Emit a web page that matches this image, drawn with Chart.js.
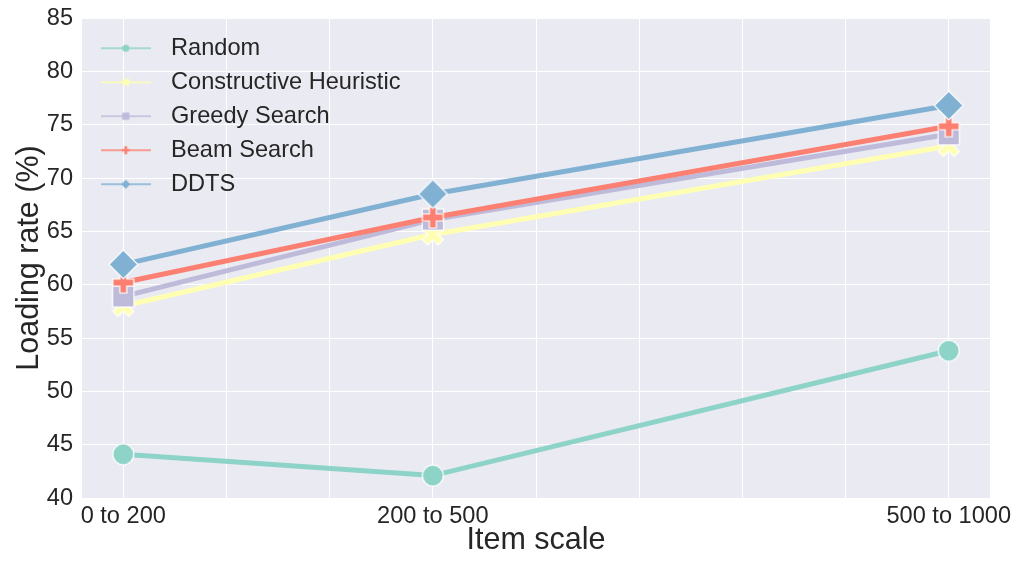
<!DOCTYPE html>
<html>
<head>
<meta charset="utf-8">
<script src="https://cdn.jsdelivr.net/npm/chart.js@4.4.1/dist/chart.umd.min.js"></script>
<style>
html,body{margin:0;padding:0;background:#ffffff;}
#wrap{width:1019px;height:565px;position:relative;}
</style>
</head>
<body>
<div id="wrap"><canvas id="c" width="1019" height="565"></canvas></div>
<script>
// ---- data ----
const categories = ['0 to 200', '200 to 500', '500 to 1000'];
const categoryX = [200, 500, 1000];
const seriesNames = ['Random', 'Constructive Heuristic', 'Greedy Search', 'Beam Search', 'DDTS'];
const randomVals = [44.1, 42.1, 53.8];
const constructiveVals = [58.0, 64.7, 73.0];
const greedyVals = [58.9, 66.1, 74.1];
const beamVals = [60.2, 66.3, 74.85];
const ddtsVals = [61.9, 68.5, 76.8];
const yTickValues = [40, 45, 50, 55, 60, 65, 70, 75, 80, 85];
const xGridValues = [200, 300, 400, 500, 600, 700, 800, 900, 1000];

// ---- styles ----
const FONT = "'Liberation Sans', Arial, sans-serif";
const TEXT = '#262626';
const colors = ['#8dd3c7', '#ffffb3', '#bebada', '#fb8072', '#80b1d3'];
const shapes = ['circle', 'x', 'square', 'plus', 'diamond'];
const markerHalf = [10.5, 10.5, 10.7, 10.5, 14.5];
const legendHalf = [3.6, 4, 3.6, 4, 4.6];
const allVals = [randomVals, constructiveVals, greedyVals, beamVals, ddtsVals];

function shapePath(ctx, shape, cx, cy, s) {
  ctx.beginPath();
  if (shape === 'circle') {
    ctx.arc(cx, cy, s, 0, Math.PI * 2);
  } else if (shape === 'square') {
    ctx.rect(cx - s, cy - s, 2 * s, 2 * s);
  } else if (shape === 'diamond') {
    ctx.moveTo(cx, cy - s); ctx.lineTo(cx + s, cy); ctx.lineTo(cx, cy + s); ctx.lineTo(cx - s, cy);
    ctx.closePath();
  } else if (shape === 'x') {
    const p = [[-1,-2],[0,-1],[1,-2],[2,-1],[1,0],[2,1],[1,2],[0,1],[-1,2],[-2,1],[-1,0],[-2,-1]];
    p.forEach((q, i) => { const x = cx + q[0] * s / 2, y = cy + q[1] * s / 2; i ? ctx.lineTo(x, y) : ctx.moveTo(x, y); });
    ctx.closePath();
  } else if (shape === 'plus') {
    const p = [[-1,-3],[1,-3],[1,-1],[3,-1],[3,1],[1,1],[1,3],[-1,3],[-1,1],[-3,1],[-3,-1],[-1,-1]];
    p.forEach((q, i) => { const x = cx + q[0] * s / 3, y = cy + q[1] * s / 3; i ? ctx.lineTo(x, y) : ctx.moveTo(x, y); });
    ctx.closePath();
  }
}

function markerCanvas(shape, half, color) {
  const size = Math.ceil(2 * (half + 2));
  const c = document.createElement('canvas');
  c.width = size; c.height = size;
  const ctx = c.getContext('2d');
  shapePath(ctx, shape, size / 2, size / 2, half);
  ctx.fillStyle = color; ctx.fill();
  ctx.strokeStyle = '#ffffff'; ctx.lineWidth = 1.2; ctx.stroke();
  return c;
}

function legendCanvas(shape, half, color) {
  const w = 50, h = 14;
  const c = document.createElement('canvas');
  c.width = w; c.height = h;
  const ctx = c.getContext('2d');
  ctx.strokeStyle = color; ctx.lineWidth = 1.6;
  ctx.beginPath(); ctx.moveTo(0, h / 2); ctx.lineTo(w, h / 2); ctx.stroke();
  shapePath(ctx, shape, w / 2, h / 2, half);
  ctx.fillStyle = color; ctx.fill();
  return c;
}

const pointImgs = shapes.map((s, i) => markerCanvas(s, markerHalf[i], colors[i]));
const legendImgs = shapes.map((s, i) => legendCanvas(s, legendHalf[i], colors[i]));

const datasets = seriesNames.map((name, i) => ({
  label: name,
  data: categoryX.map((x, j) => ({ x: x, y: allVals[i][j] })),
  borderColor: colors[i],
  backgroundColor: colors[i],
  borderWidth: 5,
  tension: 0,
  fill: false,
  pointStyle: pointImgs[i],
  pointRadius: 10,
  pointHoverRadius: 10,
  order: seriesNames.length - i,
  clip: false
}));

const bgPlugin = {
  id: 'plotBg',
  beforeDraw(chart) {
    const a = chart.chartArea, ctx = chart.ctx;
    ctx.save();
    ctx.fillStyle = '#eaeaf2';
    ctx.fillRect(a.left, a.top, a.right - a.left, a.bottom - a.top);
    ctx.restore();
  }
};

function noPad(s) { s.paddingTop = 0; s.paddingBottom = 0; s.paddingLeft = 0; s.paddingRight = 0; }

new Chart(document.getElementById('c'), {
  type: 'line',
  data: { datasets: datasets },
  plugins: [bgPlugin],
  options: {
    responsive: false,
    animation: false,
    events: [],
    layout: { padding: { top: 18, right: 29, left: 0, bottom: 0 } },
    scales: {
      x: {
        type: 'linear',
        min: 160, max: 1040,
        afterBuildTicks: (s) => { s.ticks = xGridValues.map(v => ({ value: v })); },
        afterFit: (s) => { s.height = 67; noPad(s); },
        ticks: {
          autoSkip: false, maxRotation: 0, minRotation: 0,
          padding: 4,
          color: TEXT,
          font: { family: FONT, size: 23.6 },
          callback: (v) => { const i = categoryX.indexOf(v); return i >= 0 ? categories[i] : ''; }
        },
        grid: { color: '#ffffff', lineWidth: 1, drawTicks: false },
        border: { display: false },
        title: { display: true, text: 'Item scale', color: TEXT, font: { family: FONT, size: 30.5 }, padding: { top: 0, bottom: 6 } }
      },
      y: {
        type: 'linear',
        min: 40, max: 85,
        afterBuildTicks: (s) => { s.ticks = yTickValues.map(v => ({ value: v })); },
        afterFit: (s) => { s.width = 82; noPad(s); },
        ticks: { padding: 9, color: TEXT, font: { family: FONT, size: 23.6 } },
        grid: { color: '#ffffff', lineWidth: 1, drawTicks: false },
        border: { display: false },
        title: { display: true, text: 'Loading rate (%)', color: TEXT, font: { family: FONT, size: 30.5 }, padding: { top: 11, bottom: 0 } }
      }
    },
    plugins: {
      tooltip: { enabled: false },
      legend: {
        position: 'chartArea',
        align: 'start',
        title: { display: true, text: '', padding: 0, font: { size: 26, lineHeight: 1 } },
        labels: {
          usePointStyle: true,
          pointStyleWidth: 66.8,
          padding: 10.4,
          color: TEXT,
          font: { family: FONT, size: 23.6 },
          generateLabels: () => seriesNames.map((name, i) => ({
            text: name,
            pointStyle: legendImgs[i],
            fillStyle: colors[i],
            strokeStyle: colors[i],
            lineWidth: 0,
            hidden: false,
            datasetIndex: i,
            fontColor: TEXT
          }))
        }
      }
    }
  }
});
</script>
</body>
</html>
